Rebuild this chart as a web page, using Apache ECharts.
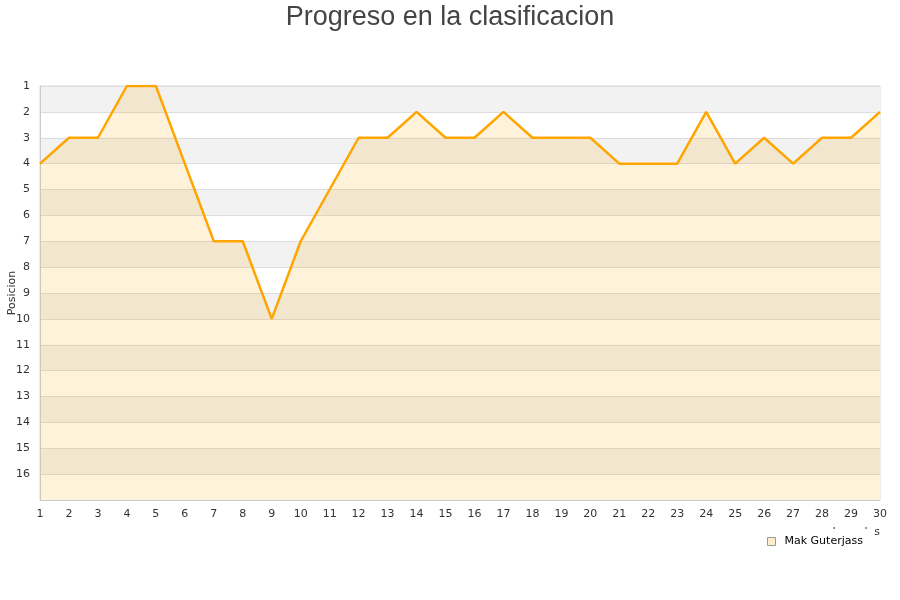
<!DOCTYPE html>
<html>
<head>
<meta charset="utf-8">
<script src="https://cdn.jsdelivr.net/npm/echarts@6/dist/echarts.min.js"></script>
<style>html,body{margin:0;padding:0;background:#fff}#c{width:900px;height:600px}</style>
</head>
<body>
<div id="c"></div>
<script>
const jornadas = ['1','2','3','4','5','6','7','8','9','10','11','12','13','14','15','16','17','18','19','20','21','22','23','24','25','26','27','28','29','30'];
const posiciones = [4,3,3,1,1,4,7,7,10,7,5,3,3,2,3,3,2,3,3,3,4,4,4,2,4,3,4,3,3,2];
const serieNombre = 'Mak Guterjass';
const titulo = 'Progreso en la clasificacion';

const chart = echarts.init(document.getElementById('c'), null, {renderer:'canvas'});
chart.setOption({
  animation: false,
  backgroundColor: '#fff',
  title: {
    text: titulo, left: 'center', top: -1,
    textStyle: {fontFamily: 'Liberation Sans, Arial, sans-serif', fontSize: 27, fontWeight: 'normal', color: '#444'}
  },
  grid: {left: 40, right: 20, top: 86, bottom: 100, show: true, borderColor: '#ddd', borderWidth: 1,
    backgroundColor: 'transparent', containLabel: false, outerBoundsMode: 'none'},
  legend: {
    data: [serieNombre], left: 762, top: 529, orient: 'horizontal',
    backgroundColor: '#fff', padding: [7, 11, 6, 5], z: 10,
    icon: 'rect', itemWidth: 8, itemHeight: 8, itemGap: 6,
    textStyle: {fontFamily: 'DejaVu Sans, sans-serif', fontSize: 11, color: '#000', padding: [0, 0, 0, 4]},
    itemStyle: {color: '#ffeccc', borderColor: '#999', borderWidth: 1}
  },
  graphic: [{
    type: 'text', z: 0, zlevel: 0, right: 20, top: 527,
    style: {text: 'Jornadas', fontFamily: 'DejaVu Sans, sans-serif', fontSize: 11, fill: '#333'}
  }],
  xAxis: {
    type: 'category', data: jornadas, boundaryGap: false,
    axisLine: {show: true, lineStyle: {color: '#ccc'}},
    axisTick: {show: false},
    axisLabel: {fontFamily: 'DejaVu Sans, sans-serif', fontSize: 11, color: '#333', margin: 9, interval: 0},
    splitLine: {show: false}
  },
  yAxis: {
    type: 'value', inverse: true, min: 1, max: 17, interval: 1,
    name: 'Posicion', nameLocation: 'middle', nameGap: 22, nameRotate: 90, nameMoveOverlap: false,
    nameTextStyle: {fontFamily: 'DejaVu Sans, sans-serif', fontSize: 11, color: '#333'},
    axisLine: {show: true, lineStyle: {color: '#ccc'}},
    axisTick: {show: false},
    axisLabel: {fontFamily: 'DejaVu Sans, sans-serif', fontSize: 11, color: '#333', margin: 10,
      formatter: v => (v === 17 ? '' : String(v))},
    splitLine: {show: true, lineStyle: {color: '#ddd'}},
    splitArea: {show: true, areaStyle: {color: ['#f2f2f2', '#ffffff']}}
  },
  series: [{
    name: serieNombre, type: 'line', data: posiciones,
    showSymbol: false, symbol: 'none',
    lineStyle: {color: '#ffa500', width: 2.5},
    itemStyle: {color: '#ffa500'},
    areaStyle: {color: 'rgba(255,165,0,0.2)', origin: 'end'}
  }]
});
</script>
</body>
</html>
